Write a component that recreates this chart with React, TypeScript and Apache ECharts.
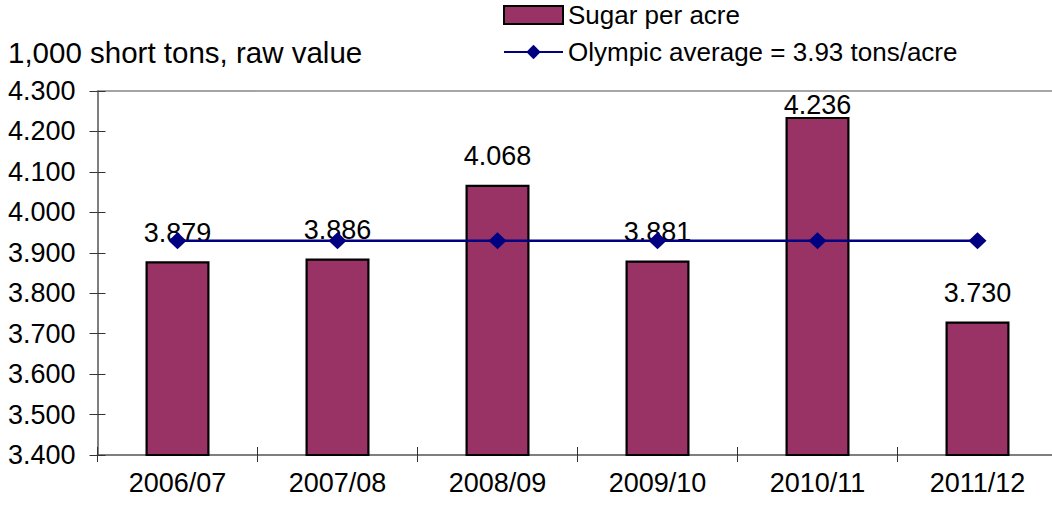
import React, { useEffect, useRef } from "react";
import * as echarts from "echarts";

const categories = ["2006/07", "2007/08", "2008/09", "2009/10", "2010/11", "2011/12"];
const sugarPerAcre = [3.879, 3.886, 4.068, 3.881, 4.236, 3.73];
const olympicAverage = [3.93, 3.93, 3.93, 3.93, 3.93, 3.93];
const yMin = 3.4;
const yMax = 4.3;
const yStep = 0.1;
const barName = "Sugar per acre";
const lineName = "Olympic average = 3.93 tons/acre";
const unitTitle = "1,000 short tons, raw value";

const FONT = "'Liberation Sans', Arial, sans-serif";

export default function App() {
  const ref = useRef<HTMLDivElement>(null);
  useEffect(() => {
    if (!ref.current) return;
    const chart = echarts.init(ref.current, null, { renderer: "svg" });
    const text = { color: "#000", fontFamily: FONT, fontSize: 27 };
    chart.setOption({
      animation: false,
      textStyle: { fontFamily: FONT },
      title: {
        text: unitTitle,
        left: 8,
        top: 37,
        padding: 0,
        textStyle: { ...text, fontSize: 29.5, fontWeight: "normal" },
      },
      legend: {
        orient: "vertical",
        left: 503,
        top: 2,
        padding: 0,
        itemWidth: 59,
        itemHeight: 18,
        itemGap: 11,
        textStyle: { ...text, fontSize: 26 },
        data: [{ name: barName, icon: "rect" }, { name: lineName }],
      },
      grid: {
        left: 97.5,
        right: -5.5,
        top: 91,
        bottom: 53,
        outerBoundsMode: "none",
        containLabel: false,
      },
      xAxis: [
        {
          type: "category",
          data: categories,
          position: "bottom",
          axisLine: { lineStyle: { color: "#555", width: 1.5 } },
          axisTick: { show: true, inside: false, length: 7, lineStyle: { color: "#333" } },
          axisLabel: { ...text, margin: 14 },
          splitLine: { show: false },
        },
        {
          type: "category",
          data: categories,
          position: "bottom",
          axisLine: { show: false },
          axisTick: { show: true, inside: true, length: 8, lineStyle: { color: "#333" } },
          axisLabel: { show: false },
          splitLine: { show: false },
        },
        {
          type: "category",
          data: categories,
          position: "top",
          axisLine: { show: true, lineStyle: { color: "#888", width: 1.5 } },
          axisTick: { show: false },
          axisLabel: { show: false },
          splitLine: { show: false },
        },
      ],
      yAxis: [
        {
          type: "value",
          min: yMin,
          max: yMax,
          interval: yStep,
          axisLine: { show: true, lineStyle: { color: "#555", width: 1.5 } },
          axisTick: { show: true, inside: false, length: 8, lineStyle: { color: "#333" } },
          axisLabel: { ...text, margin: 22, formatter: (v: number) => v.toFixed(3) },
          splitLine: { show: false },
        },
        {
          type: "value",
          min: yMin,
          max: yMax,
          interval: yStep,
          position: "left",
          axisLine: { show: false },
          axisTick: { show: true, inside: true, length: 8, lineStyle: { color: "#333" } },
          axisLabel: { show: false },
          splitLine: { show: false },
        },
      ],
      series: [
        {
          name: barName,
          type: "bar",
          xAxisIndex: 0,
          yAxisIndex: 0,
          barWidth: 64,
          data: sugarPerAcre.map((v, i) =>
            i === 4 ? { value: v, label: { distance: -2 } } : v
          ),
          itemStyle: { color: "#993366", borderColor: "#000", borderWidth: 2.2 },
          label: {
            show: true,
            position: "top",
            distance: 15,
            ...text,
            formatter: (p: any) => Number(p.value).toFixed(3),
          },
          z: 2,
        },
        {
          name: lineName,
          type: "line",
          xAxisIndex: 0,
          yAxisIndex: 0,
          data: olympicAverage,
          symbol: "diamond",
          symbolSize: [18, 17],
          lineStyle: { color: "#000080", width: 2.5 },
          itemStyle: { color: "#000080" },
          z: 3,
        },
      ],
    });
    return () => chart.dispose();
  }, []);
  return (
    <div
      ref={ref}
      style={{ position: "fixed", left: 0, top: 0, width: 1052, height: 508, background: "#fff" }}
    />
  );
}
